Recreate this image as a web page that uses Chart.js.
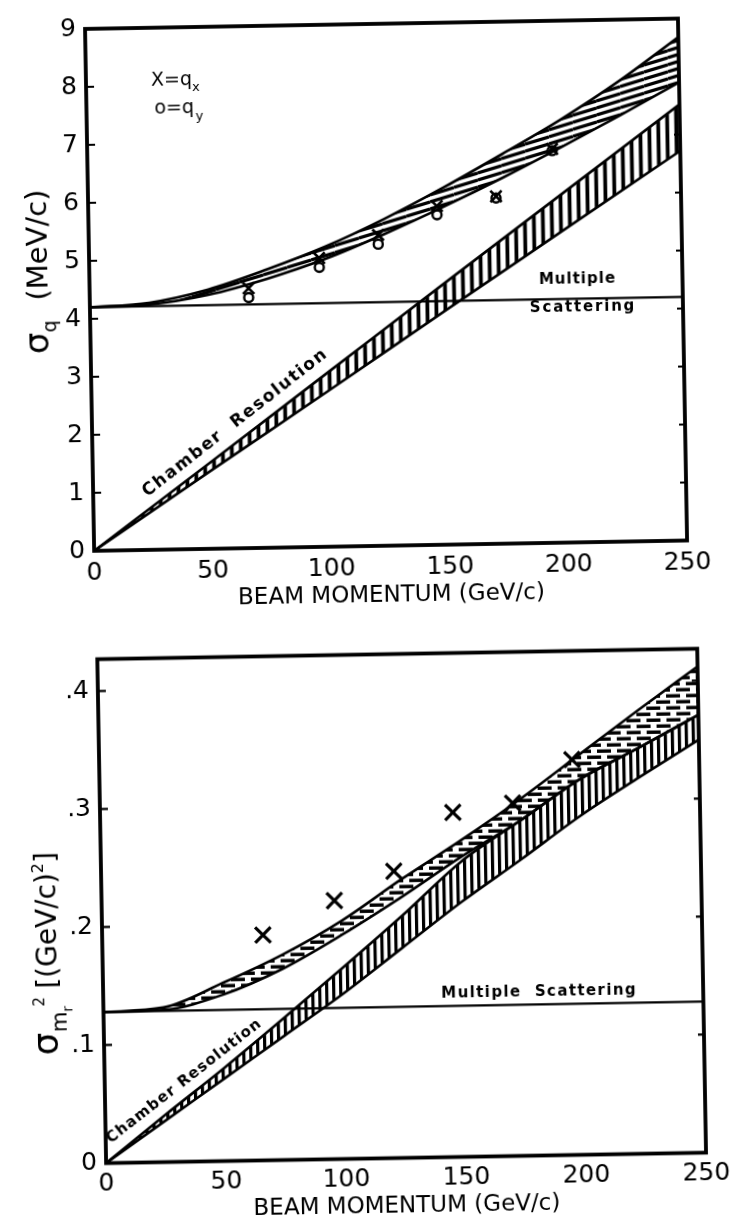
<!DOCTYPE html>
<html>
<head>
<meta charset="utf-8">
<script src="https://cdn.jsdelivr.net/npm/chart.js@4.4.1/dist/chart.umd.min.js"></script>
<style>
  html, body { margin: 0; padding: 0; background: #fff; }
  body { width: 738px; height: 1230px; position: relative; overflow: hidden; }
  .panel { position: absolute; left: 0; width: 738px; transform: rotate(-1deg); transform-origin: 50% 50%; }
  #p1 { top: 0; height: 620px; }
  #p2 { top: 620px; height: 610px; }
  canvas { display: block; }
</style>
</head>
<body>
<div class="panel" id="p1"><canvas id="c1" width="738" height="620"></canvas></div>
<div class="panel" id="p2"><canvas id="c2" width="738" height="610"></canvas></div>
<script>
// Beam momentum grids (GeV/c)
const momentum = [0, 25, 50, 75, 100, 125, 150, 175, 200, 225, 250];
const chamberMomentum = [0, 50, 100, 150, 200, 250];
const scatterMomentum = [0, 250];
const xTicks = [0, 50, 100, 150, 200, 250];
const xTickLabels = ['0', '50', '100', '150', '200', '250'];

// Upper panel: sigma_q (MeV/c)
const qTotalHigh = [4.2, 4.26, 4.47, 4.8, 5.18, 5.64, 6.16, 6.72, 7.3, 7.95, 8.68];
const qTotalLow = [4.2, 4.23, 4.38, 4.64, 4.97, 5.38, 5.83, 6.31, 6.82, 7.35, 7.9];
const qChamberHigh = [0, 1.5, 3.01, 4.52, 6.02, 7.52];
const qChamberLow = [0, 1.35, 2.69, 4.04, 5.38, 6.72];
const qScattering = [4.2, 4.2];
const qPointMomentum = [67, 97, 122, 147, 172, 196];
const qxValues = [4.48, 4.98, 5.36, 5.84, 5.99, 6.79];
const qyValues = [4.32, 4.82, 5.2, 5.69, 5.96, 6.76];
const qTicks = [0, 1, 2, 3, 4, 5, 6, 7, 8, 9];
const qTickLabels = ['0', '1', '2', '3', '4', '5', '6', '7', '8', '9'];

// Lower panel: sigma of m_r^2 ((GeV/c)^2)
const mTotalHigh = [0.128, 0.131, 0.151, 0.174, 0.202, 0.236, 0.268, 0.302, 0.339, 0.376, 0.412];
const mTotalLow = [0.128, 0.129, 0.141, 0.162, 0.19, 0.221, 0.254, 0.284, 0.318, 0.344, 0.371];
const mChamberHigh = [0, 0.04, 0.079, 0.12, 0.162, 0.205, 0.25, 0.284, 0.318, 0.344, 0.371];
const mChamberLow = [0, 0.035, 0.07, 0.105, 0.14, 0.178, 0.216, 0.251, 0.287, 0.319, 0.35];
const mScattering = [0.128, 0.128];
const mPointMomentum = [67, 97, 122, 147, 172, 197];
const mValues = [0.191, 0.219, 0.243, 0.292, 0.299, 0.335];
const mTicks = [0, 0.1, 0.2, 0.3, 0.4];
const mTickLabels = ['0', '.1', '.2', '.3', '.4'];

const FONT = "'DejaVu Sans', 'Liberation Sans', sans-serif";
Chart.defaults.font.family = FONT;
Chart.defaults.color = '#000';

// Hatch fills for the shaded bands
function makePattern(kind) {
  const c = document.createElement('canvas');
  const g = c.getContext('2d');
  g.fillStyle = '#000';
  g.strokeStyle = '#000';
  if (kind === 'slant') {
    c.width = 24; c.height = 7;
    g.lineWidth = 3.2;
    for (let y0 = 0; y0 <= 14; y0 += 7) {
      g.beginPath(); g.moveTo(0, y0); g.lineTo(24, y0 - 7); g.stroke();
    }
  } else if (kind === 'vertWide') {
    c.width = 9; c.height = 12;
    g.fillRect(2.5, 0, 3.8, 12);
  } else if (kind === 'vert') {
    c.width = 7; c.height = 12;
    g.fillRect(2, 0, 3.2, 12);
  } else if (kind === 'brick') {
    c.width = 20; c.height = 12;
    g.fillRect(0, 1.5, 14, 3.4);
    g.fillRect(10, 7.5, 14, 3.4);
    g.fillRect(-10, 7.5, 14, 3.4);
  }
  return c.getContext('2d').createPattern(c, 'repeat');
}

const pts = (xs, ys) => xs.map((x, i) => ({ x, y: ys[i] }));
const curve = (data, extra) => Object.assign({
  data, showLine: true, borderColor: '#000', borderWidth: 2.6, pointRadius: 0,
  fill: false, tension: 0.4, cubicInterpolationMode: 'monotone', order: 2
}, extra);

// Border box with inward ticks on both vertical sides
const framePlugin = {
  id: 'frame',
  afterDatasetsDraw(chart, args, opts) {
    const { ctx, chartArea: a, scales: { y } } = chart;
    ctx.save();
    ctx.strokeStyle = '#000';
    ctx.lineWidth = 3.8;
    ctx.strokeRect(a.left, a.top, a.right - a.left, a.bottom - a.top);
    ctx.lineWidth = 2.2;
    opts.ticks.forEach(v => {
      const py = y.getPixelForValue(v);
      ctx.beginPath();
      ctx.moveTo(a.left, py); ctx.lineTo(a.left + 8, py);
      ctx.moveTo(a.right, py); ctx.lineTo(a.right - 6, py);
      ctx.stroke();
    });
    ctx.restore();
  }
};

// Text runs with mixed sizes (subscripts / superscripts)
function drawRuns(ctx, runs, x, y, angle, spacing) {
  ctx.save();
  ctx.translate(x, y);
  ctx.rotate(angle);
  ctx.fillStyle = '#000';
  ctx.textAlign = 'left';
  ctx.textBaseline = 'alphabetic';
  ctx.letterSpacing = (spacing || 0) + 'px';
  let total = 0;
  runs.forEach(r => { ctx.font = r.font; r.w = ctx.measureText(r.t).width + (r.dx || 0); total += r.w; });
  let cx = -total / 2;
  runs.forEach(r => { ctx.font = r.font; ctx.fillText(r.t, cx, r.dy || 0); cx += r.w; });
  ctx.restore();
}

const deg = Math.PI / 180;

const upperText = {
  id: 'upperText',
  afterDraw(chart) {
    const ctx = chart.ctx;
    drawRuns(ctx, [
      { t: 'σ', font: '34px ' + FONT },
      { t: 'q', font: '19px ' + FONT, dy: 8, dx: 20 },
      { t: '(MeV/c)', font: '29px ' + FONT }
    ], 48, 266, -90 * deg);
    ctx.save();
    ctx.fillStyle = '#000';
    ctx.textAlign = 'left';
    ctx.font = '19px ' + FONT;
    ctx.fillText('X=q', 155, 82);
    ctx.fillText('o=q', 158, 110);
    ctx.font = '13px ' + FONT;
    ctx.fillText('x', 196, 88);
    ctx.fillText('y', 199, 117);
    ctx.restore();
    drawRuns(ctx, [{ t: 'Multiple', font: 'bold 15px ' + FONT }], 578, 287, 0, 1);
    drawRuns(ctx, [{ t: 'Scattering', font: 'bold 15px ' + FONT }], 583, 315, 0, 1.8);
    drawRuns(ctx, [{ t: 'Chamber  Resolution', font: 'bold 17px ' + FONT }], 236, 424, -37 * deg, 1.6);
  }
};

const lowerText = {
  id: 'lowerText',
  afterDraw(chart) {
    const ctx = chart.ctx;
    drawRuns(ctx, [
      { t: 'σ', font: '36px ' + FONT },
      { t: 'm', font: '21px ' + FONT, dy: 9 },
      { t: 'r', font: '14px ' + FONT, dy: 15 },
      { t: '2', font: '15px ' + FONT, dy: -13, dx: 8 },
      { t: '[(GeV/c)', font: '28px ' + FONT },
      { t: '2', font: '16px ' + FONT, dy: -12 },
      { t: ']', font: '28px ' + FONT }
    ], 56, 328, -90 * deg);
    drawRuns(ctx, [{ t: 'Multiple  Scattering', font: 'bold 15px ' + FONT }], 538, 379, 0, 1.4);
    drawRuns(ctx, [{ t: 'Chamber Resolution', font: 'bold 15px ' + FONT }], 184, 461, -37 * deg, 1.2);
  }
};

function xScale(height, padBottom, labelPad) {
  return {
    type: 'linear', min: 0, max: 250,
    afterBuildTicks: s => { s.ticks = xTicks.map(v => ({ value: v })); },
    afterFit: s => { s.height = height; },
    ticks: { callback: (v, i) => xTickLabels[i], font: { size: 25 }, color: '#000', padding: labelPad, maxRotation: 0, autoSkip: false },
    grid: { display: false, drawTicks: false },
    border: { display: false },
    title: { display: true, text: 'BEAM MOMENTUM (GeV/c)', font: { size: 23 }, color: '#000', padding: { top: 0, bottom: padBottom } }
  };
}

function yScale(max, ticks, labels, width) {
  return {
    type: 'linear', min: 0, max: max,
    afterBuildTicks: s => { s.ticks = ticks.map(v => ({ value: v })); },
    afterFit: s => { s.width = width; },
    ticks: { callback: (v, i) => labels[i], font: { size: 25 }, color: '#000', padding: 9, autoSkip: false },
    grid: { display: false, drawTicks: false },
    border: { display: false }
  };
}

const common = {
  responsive: false, animation: false, devicePixelRatio: 1, events: [],
  plugins: { legend: { display: false }, tooltip: { enabled: false } }
};

new Chart(document.getElementById('c1'), {
  type: 'scatter',
  data: {
    datasets: [
      { data: pts(qPointMomentum, qxValues), pointStyle: 'crossRot', pointRadius: 8, pointBorderWidth: 2.6, borderColor: '#000', backgroundColor: '#000', showLine: false, order: 0 },
      { data: pts(qPointMomentum, qyValues), pointStyle: 'circle', pointRadius: 4.5, pointBorderWidth: 2.4, borderColor: '#000', backgroundColor: 'rgba(255,255,255,0)', showLine: false, order: 0 },
      curve(pts(momentum, qTotalHigh), { fill: '+1', backgroundColor: makePattern('slant') }),
      curve(pts(momentum, qTotalLow)),
      curve(pts(chamberMomentum, qChamberHigh), { fill: '+1', backgroundColor: makePattern('vertWide') }),
      curve(pts(chamberMomentum, qChamberLow)),
      curve(pts(scatterMomentum, qScattering), { borderWidth: 2.2 })
    ]
  },
  options: Object.assign({}, common, {
    layout: { padding: { left: 0, right: 55, top: 16, bottom: 0 } },
    scales: { x: xScale(74, 10, 7), y: yScale(9, qTicks, qTickLabels, 90) },
    plugins: Object.assign({}, common.plugins, { frame: { ticks: qTicks } })
  }),
  plugins: [framePlugin, upperText]
});

new Chart(document.getElementById('c2'), {
  type: 'scatter',
  data: {
    datasets: [
      { data: pts(mPointMomentum, mValues), pointStyle: 'crossRot', pointRadius: 11, pointBorderWidth: 3.2, borderColor: '#000', backgroundColor: '#000', showLine: false, order: 0 },
      curve(pts(momentum, mTotalHigh), { fill: '+1', backgroundColor: makePattern('brick') }),
      curve(pts(momentum, mTotalLow)),
      curve(pts(momentum, mChamberHigh), { fill: '+1', backgroundColor: makePattern('vert') }),
      curve(pts(momentum, mChamberLow)),
      curve(pts(scatterMomentum, mScattering), { borderWidth: 2.2 })
    ]
  },
  options: Object.assign({}, common, {
    layout: { padding: { left: 0, right: 36, top: 34.5, bottom: 0 } },
    scales: { x: xScale(71.5, 9, 5.5), y: yScale(0.427, mTicks, mTickLabels, 102) },
    plugins: Object.assign({}, common.plugins, { frame: { ticks: mTicks } })
  }),
  plugins: [framePlugin, lowerText]
});
</script>
</body>
</html>
